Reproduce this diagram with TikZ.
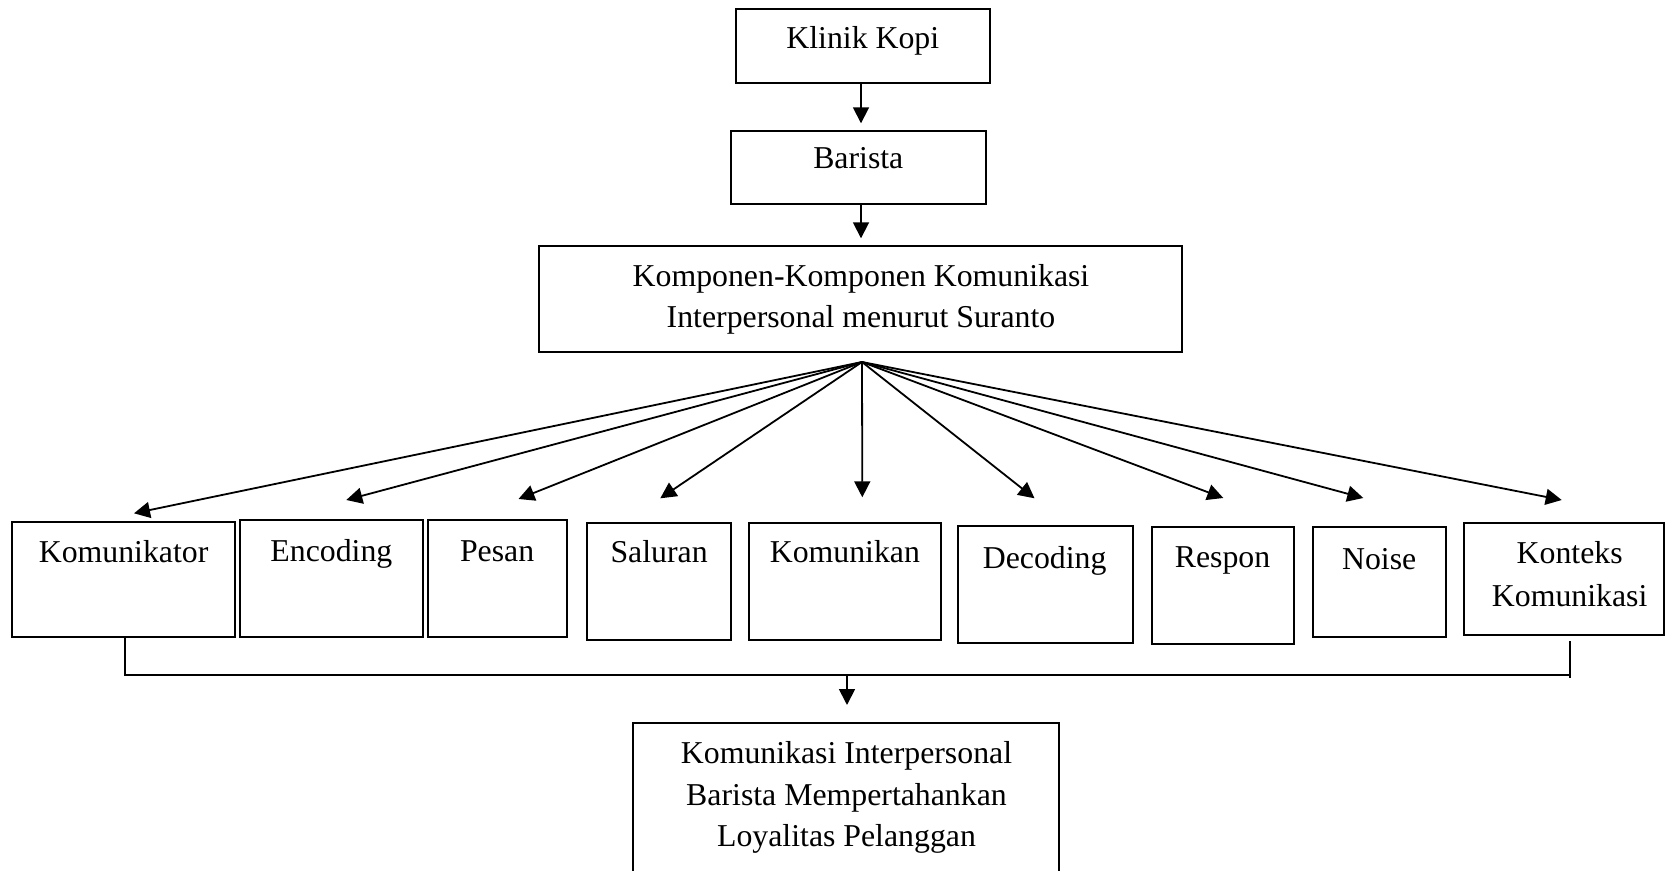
\documentclass[tikz,border=0pt]{standalone}
\usepackage{fontspec}
\setmainfont{Liberation Serif}
\usetikzlibrary{arrows.meta,fit}
\begin{document}
\begin{tikzpicture}[x=0.5pt,y=-0.5pt,
  box/.style={draw, line width=1pt, inner sep=0pt},
  lbl/.style={inner sep=0pt, anchor=base, font=\fontsize{15.9pt}{20pt}\selectfont},
  arr/.style={line width=0.9pt, -{Triangle[length=8pt,width=8pt]}},
  ln/.style={line width=0.9pt}]
\useasboundingbox (0,0) rectangle (1666,871);
% boxes
\node[box, fit={(735.7,9.3) (990,83.3)}] (kk) {};
\node[box, fit={(731.3,130.7) (985.7,204.3)}] (ba) {};
\node[box, fit={(538.7,246) (1181.5,351.7)}] (kp) {};
\node[box, fit={(12.2,522.3) (235,637.3)}] (b1) {};
\node[box, fit={(240.3,519.7) (423.2,636.7)}] (b2) {};
\node[box, fit={(428.2,519.7) (566.7,636.7)}] (b3) {};
\node[box, fit={(586.8,522.7) (731,639.7)}] (b4) {};
\node[box, fit={(749,522.7) (941.2,639.7)}] (b5) {};
\node[box, fit={(958,525.7) (1132.9,643)}] (b6) {};
\node[box, fit={(1151.7,526.7) (1294.3,643.7)}] (b7) {};
\node[box, fit={(1312.7,526.7) (1446,636.7)}] (b8) {};
\node[box, fit={(1464.3,523.3) (1664,634.7)}] (b9) {};
\node[box, fit={(633,722.7) (1059.3,890)}] (res) {};
% texts
\node[lbl] (tkk) at (862.8,49) {Klinik Kopi};
\node[lbl] (tba) at (858.3,169) {Barista};
\node[lbl] (tkp1) at (861,287) {Komponen-Komponen Komunikasi};
\node[lbl] (tkp2) at (861,328) {Interpersonal menurut Suranto};
\node[lbl] (t1) at (123.6,562) {Komunikator};
\node[lbl] (t2) at (331.4,561) {Encoding};
\node[lbl] (t3) at (497.1,561) {Pesan};
\node[lbl] (t4) at (659.1,563) {Saluran};
\node[lbl] (t5) at (844.9,563) {Komunikan};
\node[lbl] (t6) at (1044.7,568) {Decoding};
\node[lbl] (t7) at (1222.5,567.5) {Respon};
\node[lbl] (t8) at (1379.2,569) {Noise};
\node[lbl] (t9a) at (1569.7,564) {Konteks};
\node[lbl] (t9b) at (1569.7,606) {Komunikasi};
\node[lbl] (tr1) at (846.5,763) {Komunikasi Interpersonal};
\node[lbl] (tr2) at (846.5,805) {Barista Mempertahankan};
\node[lbl] (tr3) at (846.5,846.5) {Loyalitas Pelanggan};
% top arrows
\draw[arr] (861,83.3) -- (861,123.3);
\draw[arr] (861,204.3) -- (861,238.3);
% fan
\coordinate (apex) at (862,362);
\coordinate (p1) at (134,513.3);
\coordinate (p2) at (346.3,500);
\coordinate (p3) at (518.5,499);
\coordinate (p4) at (660.3,498.3);
\coordinate (p5) at (862.3,497.3);
\coordinate (p6) at (1034.5,498.3);
\coordinate (p7) at (1223.3,498);
\coordinate (p8) at (1363.3,498);
\coordinate (p9) at (1561.7,500);
\foreach \i in {1,...,9} \draw[arr] (apex) -- (p\i);
% bottom join
\coordinate (j1) at (125,675);
\coordinate (j2) at (1570,675);
\coordinate (jm) at (847,675);
\draw[ln] (j1 |- b1.south) -- (j1) -- (j2) -- (1570,640.7);
\draw[ln] (j2) -- (1570,678);
\draw[arr] (jm) -- (847,705);
\end{tikzpicture}
\end{document}
